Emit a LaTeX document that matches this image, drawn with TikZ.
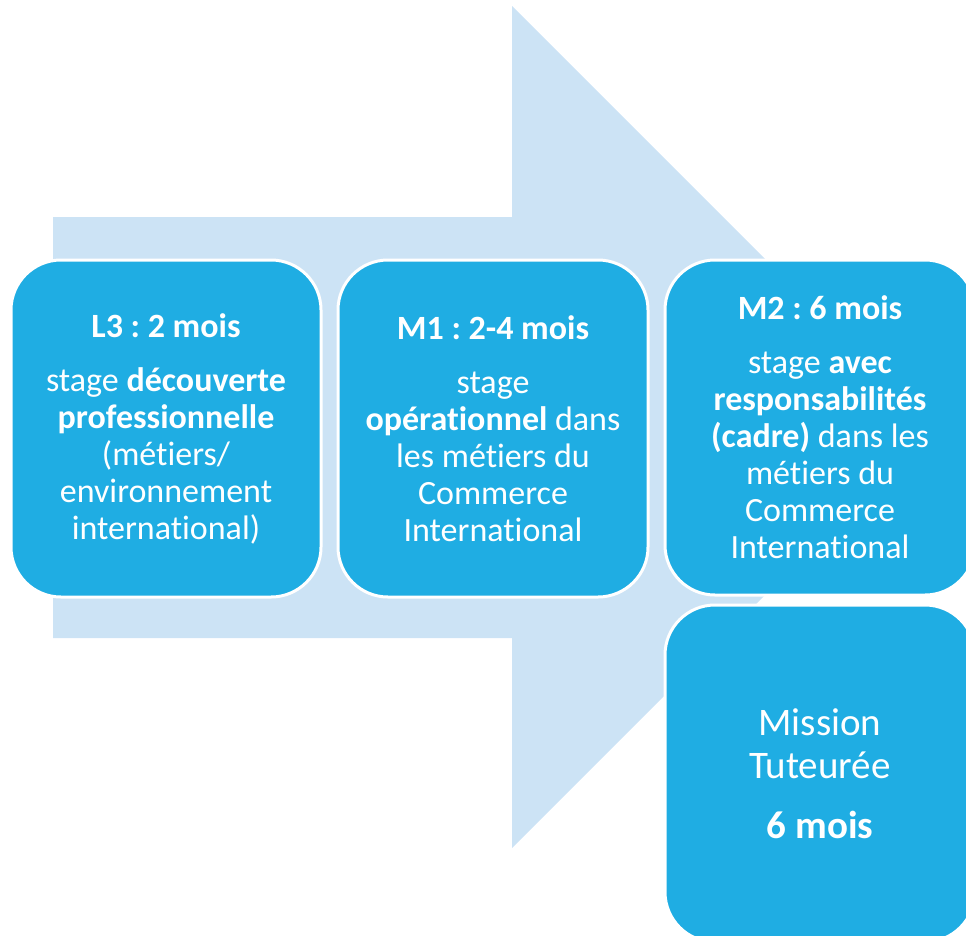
\documentclass[tikz,border=0pt]{standalone}
\usepackage{fontspec}
\setmainfont[Ligatures=NoCommon]{Carlito}
\frenchspacing
\definecolor{boxblue}{HTML}{1FADE3}
\definecolor{arrowblue}{HTML}{CCE3F5}
\begin{document}
\begin{tikzpicture}[x=1pt,y=-1pt,
  stagebox/.style={draw=white, line width=3pt, fill=boxblue, rounded corners=50pt,
    minimum width=310pt, minimum height=337pt, inner sep=0pt, text=white,
    align=center, font=\fontsize{34}{37}\selectfont\frenchspacing},
  bigbox/.style={stagebox, font=\fontsize{39}{43}\selectfont\frenchspacing}]
\useasboundingbox (0,0) rectangle (966,935);
\clip (0,0) rectangle (966,935);
\fill[arrowblue] (53,217) -- (512,217) -- (512,6) -- (933,427) -- (512,848) -- (512,638) -- (53,638) -- cycle;
\node[stagebox] (l3) at (166,428.5) {\textbf{L3 : 2 mois}\\[17pt]stage \textbf{découverte}\\\textbf{professionnelle}\\(métiers/\\environnement\\international)};
\node[stagebox] (m1) at (493,428.5) {\textbf{M1 : 2-4 mois}\\[17pt]stage\\\textbf{opérationnel} dans\\les métiers du\\Commerce\\International};
\node[stagebox, minimum height=335pt] (m2) at (820,427.5) {\textbf{M2 : 6 mois}\\[17pt]stage \textbf{avec}\\\textbf{responsabilités}\\\textbf{(cadre)} dans les\\métiers du\\Commerce\\International};
\node[bigbox] (mt) at (820,773.5) {Mission\\Tuteurée\\[17pt]\textbf{6 mois}};
\end{tikzpicture}
\end{document}
